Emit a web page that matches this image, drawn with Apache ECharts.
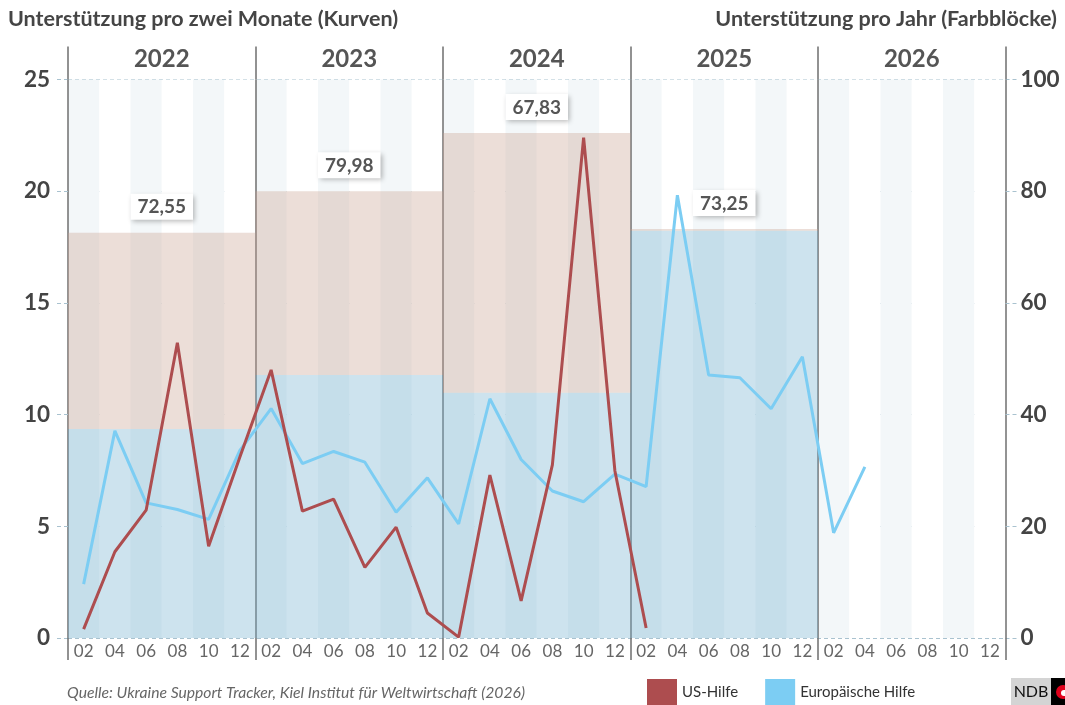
<!DOCTYPE html>
<html>
<head>
<meta charset="utf-8">
<script src="https://cdn.jsdelivr.net/npm/echarts@6/dist/echarts.min.js"></script>
<style>
html,body{margin:0;padding:0;background:#fff;}
#chart{width:1065px;height:705px;}
</style>
</head>
<body>
<div id="chart"></div>
<script>
// ---- data ----
var years = ['2022', '2023', '2024', '2025', '2026'];
var monthTicks = ['02', '04', '06', '08', '10', '12'];
// bi-monthly support (left axis, curves)
var usHilfe = [0.4, 3.86, 5.72, 13.22, 4.11, 8.1, 12.0, 5.68, 6.22, 3.16, 4.96, 1.12, 0.04, 7.29, 1.66, 7.75, 22.4, 7.49, 0.45];
var euHilfe = [2.41, 9.27, 6.05, 5.75, 5.31, 8.4, 10.27, 7.81, 8.35, 7.87, 5.63, 7.17, 5.11, 10.71, 7.99, 6.58, 6.10, 7.34, 6.78, 19.82, 11.77, 11.65, 10.26, 12.59, 4.71, 7.66];
// yearly support (right axis, colour blocks)
var euJahr = [37.4, 47.1, 43.9, 72.9, null];
var usJahr = [35.15, 32.88, 46.5, 0.35, null];
var jahrLabels = ['72,55', '79,98', '67,83', '73,25', ''];

// ---- build ----
var categories = [];
years.forEach(function (y) { monthTicks.forEach(function (m) { categories.push(y + '-' + m); }); });

var FONT = 'Lato, "Noto Sans", sans-serif';
var gridColor = '#a9c2cf';
var sepColor = '#6f6f6f';
var dash = [4, 3];

var chart = echarts.init(document.getElementById('chart'), null, {renderer: 'canvas'});
chart.setOption({
  animation: false,
  textStyle: {fontFamily: FONT},
  title: [
    {text: 'Unterstützung pro zwei Monate (Kurven)', left: 8, top: 8, padding: 0,
     textStyle: {fontFamily: FONT, fontSize: 21.5, fontWeight: 'bold', color: '#454545'}},
    {text: 'Unterstützung pro Jahr (Farbblöcke)', right: 8, top: 8, padding: 0,
     textStyle: {fontFamily: FONT, fontSize: 21.5, fontWeight: 'bold', color: '#454545'}}
  ],
  legend: {
    left: 647, top: 679, itemWidth: 30, itemHeight: 26, itemGap: 27, padding: 0,
    icon: 'rect',
    data: ['US-Hilfe', 'Europäische Hilfe'],
    textStyle: {fontFamily: FONT, fontSize: 15, color: '#333'}
  },
  grid: {left: 68, right: 59.5, top: 79.5, bottom: 67, containLabel: false},
  xAxis: [
    {
      type: 'category', data: categories, position: 'bottom', boundaryGap: true,
      axisLine: {show: false}, axisTick: {show: false},
      axisLabel: {
        interval: 0, margin: 5, fontFamily: FONT, fontSize: 17, color: '#666',
        formatter: function (v) { return v.split('-')[1]; }
      },
      splitLine: {show: false},
      splitArea: {show: true, interval: 0, areaStyle: {color: ['#f3f7f9', '#ffffff']}}
    },
    {
      type: 'category', data: years, position: 'bottom', boundaryGap: true,
      axisLine: {show: false},
      axisTick: {show: true, length: 22, lineStyle: {color: sepColor, width: 1.5}},
      axisLabel: {show: false},
      splitLine: {show: true, showMinLine: true, showMaxLine: true, lineStyle: {color: sepColor, width: 1.5}}
    },
    {
      type: 'category', data: years, position: 'top', boundaryGap: true,
      axisLine: {show: false},
      axisTick: {show: true, length: 33, lineStyle: {color: sepColor, width: 1.5}},
      axisLabel: {show: true, margin: 8, fontFamily: FONT, fontSize: 24, fontWeight: 'bold', color: '#555'},
      splitLine: {show: false}
    }
  ],
  yAxis: [
    {
      type: 'value', min: 0, max: 25, interval: 5, position: 'left',
      axisLine: {show: false},
      axisTick: {show: true, length: 13, lineStyle: {color: gridColor, type: dash}},
      axisLabel: {margin: 18, fontFamily: FONT, fontSize: 22.5, fontWeight: 'bold', color: '#444'},
      splitLine: {show: true, lineStyle: {color: gridColor, type: dash, width: 1}}
    },
    {
      type: 'value', min: 0, max: 100, interval: 20, position: 'right',
      axisLine: {show: false},
      axisTick: {show: true, length: 13, lineStyle: {color: gridColor, type: dash}},
      axisLabel: {margin: 15, fontFamily: FONT, fontSize: 22.5, fontWeight: 'bold', color: '#444'},
      splitLine: {show: false}
    }
  ],
  series: [
    {
      name: 'EU-Jahr', type: 'bar', xAxisIndex: 1, yAxisIndex: 1, stack: 'jahr',
      barWidth: '100%', barCategoryGap: '0%', data: euJahr, z: 1,
      itemStyle: {color: 'rgba(116,177,208,0.36)'}
    },
    {
      name: 'US-Jahr', type: 'bar', xAxisIndex: 1, yAxisIndex: 1, stack: 'jahr',
      barWidth: '100%', barCategoryGap: '0%', data: usJahr, z: 1,
      itemStyle: {color: 'rgba(202,164,146,0.36)'},
      label: {
        show: true, position: 'top', distance: 13,
        formatter: function (p) { return jahrLabels[p.dataIndex]; },
        fontFamily: FONT, fontSize: 19, fontWeight: 'bold', color: '#555',
        backgroundColor: '#fff', padding: [4, 7, 3, 7],
        shadowBlur: 5, shadowOffsetX: 2, shadowOffsetY: 2, shadowColor: 'rgba(0,0,0,0.28)'
      }
    },
    {
      name: 'Europäische Hilfe', type: 'line', xAxisIndex: 0, yAxisIndex: 0,
      data: euHilfe, showSymbol: false, symbol: 'none', z: 3,
      lineStyle: {color: '#7ccdf3', width: 3}, itemStyle: {color: '#7ccdf3'}
    },
    {
      name: 'US-Hilfe', type: 'line', xAxisIndex: 0, yAxisIndex: 0,
      data: usHilfe, showSymbol: false, symbol: 'none', z: 4,
      lineStyle: {color: '#ad4d4f', width: 3}, itemStyle: {color: '#ad4d4f'}
    }
  ],
  graphic: [
    {type: 'text', left: 67, top: 685, style: {
      text: 'Quelle: Ukraine Support Tracker, Kiel Institut für Weltwirtschaft (2026)',
      font: 'italic 15.7px ' + FONT, fill: '#666'}},
    {type: 'rect', shape: {x: 1011, y: 678, width: 40, height: 27}, style: {fill: '#d4d4d4'}},
    {type: 'text', x: 1031, y: 692, style: {text: 'NDB', font: '16px ' + FONT, fill: '#111',
      textAlign: 'center', textVerticalAlign: 'middle'}},
    {type: 'rect', shape: {x: 1051, y: 678, width: 14, height: 27}, style: {fill: '#000'}},
    {type: 'circle', shape: {cx: 1063, cy: 692, r: 7}, style: {fill: '#e0001b'}},
    {type: 'circle', shape: {cx: 1064, cy: 693, r: 3}, style: {fill: '#fff'}}
  ]
});
</script>
</body>
</html>
